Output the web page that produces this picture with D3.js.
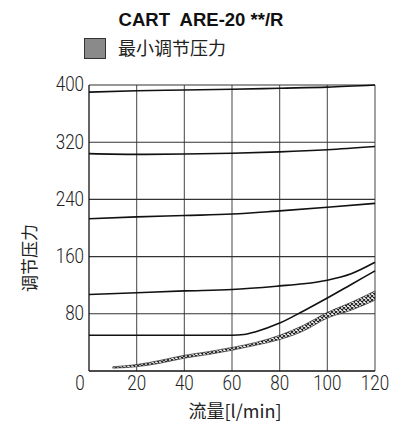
<!DOCTYPE html>
<html>
  <head>
    <meta charset="utf-8">
    <script src="https://d3js.org/d3.v7.min.js"></script>
    <style>
      body { margin: 0; background: #fff; }
      .tick_label { font-family: Roboto, 'DejaVu Sans', sans-serif; font-weight: 300; font-size: 20px; fill: #222; }
      .cjk { font-family: 'Noto Sans CJK SC', sans-serif; fill: #222; }
    </style>
  </head>
  <body>
    <svg></svg>
    <script type="text/javascript">
      // values
      const xTicks = [0, 20, 40, 60, 80, 100, 120]
      const yTicks = [80, 160, 240, 320, 400]

      const flow = [0, 20, 40, 60, 80, 100, 120]
      const p390 = [390, 392, 393, 394, 395.5, 397, 400]
      const p304 = [304, 303, 303.5, 304.5, 306.5, 309.5, 314]
      const p213 = [213, 215.5, 217.5, 219.5, 224, 229, 234.5]

      const flow4 = [0, 20, 40, 60, 80, 90, 100, 110, 120]
      const p107 = [107, 109.5, 112, 114, 119, 122, 127, 136, 152]

      const flow5 = [0, 60, 65, 70, 80, 90, 100, 110, 120]
      const p50 = [50, 50, 51, 55, 67, 84, 102, 121, 140]

      // minimum regulated pressure band
      const minFlow = [10, 20, 30, 40, 50, 60, 70, 80, 90, 100, 110, 120]
      const minLow = [4, 6, 11, 18, 23, 29, 36, 44, 56, 74, 85, 99]
      const minHigh = [6, 9, 15, 22, 27, 33, 40, 50, 64, 82, 96, 112]

      const width = 400
      const height = 427

      const svg =
        d3.select('svg')
          .attr('width', width)
          .attr('height', height)

      const x = d3.scaleLinear().domain([0, 120]).range([89, 375])
      const y = d3.scaleLinear().domain([0, 400]).range([371, 85])

      const defs = svg.append('defs')
      const pattern = defs.append('pattern')
        .attr('id', 'hatch')
        .attr('patternUnits', 'userSpaceOnUse')
        .attr('width', 4)
        .attr('height', 4)
      pattern.append('rect').attr('width', 4).attr('height', 4).attr('fill', '#fff')
      pattern.append('path')
        .attr('d', 'M0,0L4,4M4,0L0,4')
        .attr('stroke', '#222')
        .attr('stroke-width', 1.1)

      // grid
      svg.selectAll('.grid_v')
        .data(xTicks.slice(1))
        .enter()
        .append('line')
          .attr('class', 'grid_v')
          .attr('x1', d => x(d))
          .attr('x2', d => x(d))
          .attr('y1', y(0))
          .attr('y2', y(400))
          .attr('stroke', '#555')
          .attr('stroke-width', 1.1)

      svg.selectAll('.grid_h')
        .data(yTicks)
        .enter()
        .append('line')
          .attr('class', 'grid_h')
          .attr('x1', x(0))
          .attr('x2', x(120))
          .attr('y1', d => y(d))
          .attr('y2', d => y(d))
          .attr('stroke', '#333')
          .attr('stroke-width', 1.1)

      // axes
      svg.append('line')
        .attr('x1', x(0)).attr('x2', x(0))
        .attr('y1', y(0)).attr('y2', y(400))
        .attr('stroke', '#111').attr('stroke-width', 1.3)
      svg.append('line')
        .attr('x1', x(0)).attr('x2', x(120))
        .attr('y1', y(0)).attr('y2', y(0))
        .attr('stroke', '#111').attr('stroke-width', 1.3)

      // curves
      const line = d3.line()
        .x(d => x(d[0]))
        .y(d => y(d[1]))
        .curve(d3.curveMonotoneX)

      const curves = [
        d3.zip(flow, p390),
        d3.zip(flow, p304),
        d3.zip(flow, p213),
        d3.zip(flow4, p107),
        d3.zip(flow5, p50)
      ]

      svg.selectAll('.curve')
        .data(curves)
        .enter()
        .append('path')
          .attr('class', 'curve')
          .attr('d', line)
          .attr('fill', 'none')
          .attr('stroke', '#111')
          .attr('stroke-width', 1.6)

      const band = d3.area()
        .x(d => x(d[0]))
        .y0(d => y(d[1]))
        .y1(d => y(d[2]))
        .curve(d3.curveMonotoneX)

      svg.append('path')
        .datum(d3.zip(minFlow, minLow, minHigh))
        .attr('d', band)
        .attr('fill', 'url(#hatch)')
        .attr('stroke', '#333')
        .attr('stroke-width', 0.7)

      // tick labels, squeezed to the narrow face of the reference
      svg.selectAll('.x_label')
        .data(xTicks)
        .enter()
        .append('text')
          .attr('class', 'tick_label')
          .attr('transform', d =>
            `translate(${d === 0 ? x(d) - 9 : x(d)},384) scale(0.85,1)`)
          .attr('text-anchor', 'middle')
          .attr('dominant-baseline', 'central')
          .text(d => d)

      svg.selectAll('.y_label')
        .data(yTicks)
        .enter()
        .append('text')
          .attr('class', 'tick_label')
          .attr('transform', d => `translate(84,${y(d)}) scale(0.85,1)`)
          .attr('text-anchor', 'end')
          .attr('dominant-baseline', 'central')
          .text(d => d)

      // titles
      svg.append('text')
        .attr('x', 201)
        .attr('y', 26)
        .attr('text-anchor', 'middle')
        .style('white-space', 'pre')
        .style('font-family', 'Liberation Sans, Arial, sans-serif')
        .style('font-weight', 'bold')
        .style('font-size', '18.5px')
        .style('fill', '#111')
        .text('CART  ARE-20 **/R')

      svg.append('rect')
        .attr('x', 84.5)
        .attr('y', 38.5)
        .attr('width', 21)
        .attr('height', 20)
        .attr('fill', '#8a8a8a')
        .attr('stroke', '#333')
        .attr('stroke-width', 1)

      svg.append('text')
        .attr('class', 'cjk')
        .attr('x', 118)
        .attr('y', 47)
        .attr('dominant-baseline', 'central')
        .style('font-size', '18px')
        .text('最小调节压力')

      svg.append('text')
        .attr('class', 'cjk')
        .attr('transform', 'translate(28,258) rotate(-90)')
        .attr('text-anchor', 'middle')
        .attr('dominant-baseline', 'central')
        .style('font-size', '17px')
        .text('调节压力')

      svg.append('text')
        .attr('class', 'cjk')
        .attr('x', 235)
        .attr('y', 410)
        .attr('text-anchor', 'middle')
        .attr('dominant-baseline', 'central')
        .style('font-size', '18px')
        .text('流量[l/min]')
    </script>
  </body>
</html>
